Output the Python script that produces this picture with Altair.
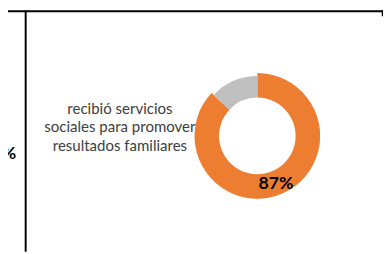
import altair as alt
import pandas as pd

# Data
categorias = ["Sí", "No"]
valores = [87, 13]
colores = ["#ED7D31", "#BFBFBF"]
etiqueta = ["recibió servicios", "sociales para promover", "resultados familiares"]
izq_pct = ["95%"]

df = pd.DataFrame({"cat": categorias, "valor": valores, "orden": list(range(len(categorias)))})
df["txt"] = df["valor"].astype(str) + "%"

W, H = 382, 246
CX, CY = 254, 128

base = alt.Chart(df)

def ring(outer, cat_visible):
    return base.mark_arc(stroke=None).encode(
        x=alt.value(CX),
        y=alt.value(CY),
        theta=alt.Theta("valor:Q", stack=True, scale=alt.Scale(domain=[0, 100])),
        order=alt.Order("orden:Q"),
        color=alt.Color("cat:N", scale=alt.Scale(domain=categorias, range=colores), legend=None),
        opacity=alt.condition(alt.datum.cat == cat_visible, alt.value(1), alt.value(0)),
        radius=alt.value(outer),
        radius2=alt.value(39),
    )

donut_si = ring(64, "Sí")
donut_no = ring(61, "No")

pct = base.transform_filter(alt.datum.cat == "Sí").mark_text(
    font="Lato", fontWeight="bold", fontSize=18, color="#000000", align="center", baseline="alphabetic"
).encode(x=alt.value(273), y=alt.value(182), text="txt:N")

lbl = alt.Chart(pd.DataFrame({"k": [0]})).mark_text(
    font="Lato", fontSize=15.3, color="#404040", align="center", baseline="alphabetic", lineHeight=18.5
).encode(x=alt.value(114), y=alt.value(106), text=alt.value(etiqueta))

left_pct = alt.Chart(pd.DataFrame({"t": izq_pct})).mark_text(
    font="Lato", fontWeight="bold", fontSize=18, color="#000000", align="right", baseline="alphabetic"
).encode(x=alt.value(8.5), y=alt.value(152), text="t:N")

lines_df = pd.DataFrame({"k": [0]})
top_line = alt.Chart(lines_df).mark_rule(color="#000000", strokeWidth=2).encode(
    x=alt.value(0), x2=alt.value(W), y=alt.value(1)
)
left_line = alt.Chart(lines_df).mark_rule(color="#000000", strokeWidth=2).encode(
    x=alt.value(18), y=alt.value(0), y2=alt.value(H)
)
right_line = alt.Chart(lines_df).mark_rule(color="#000000", strokeWidth=1.5).encode(
    x=alt.value(381.5), y=alt.value(0), y2=alt.value(6)
)

chart = alt.layer(donut_si, donut_no, pct, lbl, left_pct, top_line, left_line, right_line).properties(
    width=W, height=H, padding=0, autosize=alt.AutoSizeParams(type="none")
).configure_view(stroke=None)

chart.save("out.html", embed_options={"renderer": "svg", "actions": False})
